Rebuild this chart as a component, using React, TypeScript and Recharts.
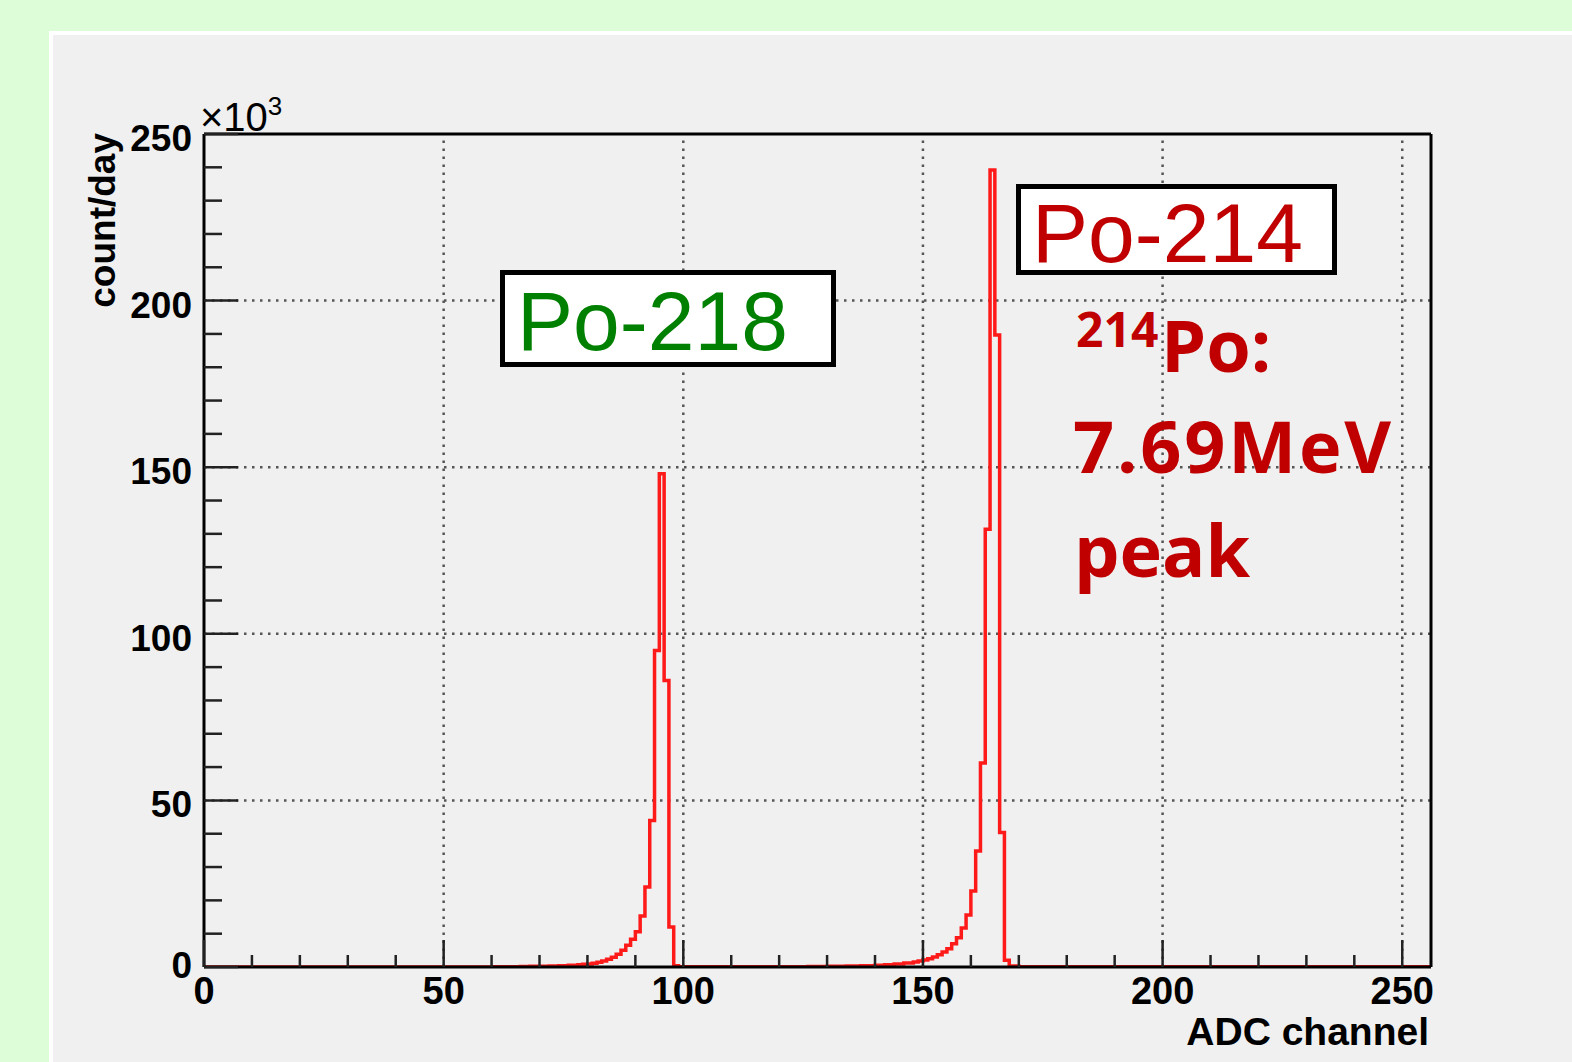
import { LineChart, Line, XAxis, YAxis, ReferenceLine } from 'recharts';

// histogram bin lower edges (ADC channel) and counts per day (x10^3)
const channels = [
    0, 60, 64, 66, 68, 70, 72, 74, 76, 78, 79, 80, 81, 82, 83, 84, 85, 86, 87, 88, 89,
    90, 91, 92, 93, 94, 95, 96, 97, 98, 99, 104,
    120, 126, 130, 134, 137, 140, 142, 144, 146, 148, 149, 150, 151, 152, 153, 154, 155, 156, 157,
    158, 159, 160, 161, 162, 163, 164, 165, 166, 167, 168, 170, 256,
];
const counts = [
    0, 0.05, 0.1, 0.15, 0.2, 0.25, 0.3, 0.4, 0.5, 0.7, 0.8, 0.9, 1.1, 1.4, 1.8, 2.3, 2.9, 3.8, 5.0, 6.5, 8.3,
    10.6, 15.3, 24, 44, 95, 148, 86, 12, 0.4, 0.1, 0.05,
    0.1, 0.15, 0.2, 0.3, 0.4, 0.5, 0.7, 0.9, 1.2, 1.5, 1.8, 2.1, 2.5, 3.0, 3.7, 4.5, 5.5, 7.0, 8.8,
    11.7, 15.6, 22.8, 34.8, 61.2, 131.4, 239.2, 189.7, 40.4, 2.0, 0.3, 0.05, 0.05,
];

const xTicks = [0, 10, 20, 30, 40, 50, 60, 70, 80, 90, 100, 110, 120, 130, 140, 150, 160, 170, 180, 190, 200, 210, 220, 230, 240, 250];
const yTicks = [0, 10, 20, 30, 40, 50, 60, 70, 80, 90, 100, 110, 120, 130, 140, 150, 160, 170, 180, 190, 200, 210, 220, 230, 240, 250];
const xGrid = [50, 100, 150, 200, 250];
const yGrid = [50, 100, 150, 200];

const data = channels.map((c, i) => ({ channel: c, count: counts[i] }));

const AXIS_FONT = "'Liberation Sans', Arial, Helvetica, sans-serif";
const NOTE_RED = '#c00000';

const YTick = (props: any) => {
    const { x, y, payload } = props;
    const v = payload.value;
    const major = v % 50 === 0;
    return (
        <g>
            <line x1={x} x2={x + (major ? 34 : 18)} y1={y} y2={y} stroke="#222" strokeWidth={2.5} />
            {major && (
                <text x={x - 12} y={y + (v === 0 ? 11 : 17)} textAnchor="end"
                    fontFamily={AXIS_FONT} fontWeight="bold" fontSize={37} fill="#000">{v}</text>
            )}
        </g>
    );
};

const XTick = (props: any) => {
    const { x, y, payload } = props;
    const v = payload.value;
    const major = v % 50 === 0;
    return (
        <g>
            <line x1={x} x2={x} y1={y} y2={y - (major ? 27 : 12)} stroke="#222" strokeWidth={2.5} />
            {major && (
                <text x={x} y={y + 37} textAnchor="middle"
                    fontFamily={AXIS_FONT} fontWeight="bold" fontSize={38} fill="#000">{v}</text>
            )}
        </g>
    );
};

const YTitle = (props: any) => {
    const { viewBox } = props;
    const tx = viewBox.x + 61;
    const ty = viewBox.y - 1;
    return (
        <g>
            <text x={tx} y={ty} textAnchor="end" transform={`rotate(-90, ${tx}, ${ty})`}
                fontFamily={AXIS_FONT} fontWeight="bold" fontSize={37} fill="#000">count/day</text>
            <text x={viewBox.x + 146} y={viewBox.y - 3} fontFamily={AXIS_FONT} fontSize={40} fill="#000">
                ×10<tspan fontSize={26} dy={-16}>3</tspan>
            </text>
        </g>
    );
};

const XTitle = (props: any) => {
    const { viewBox } = props;
    return (
        <text x={viewBox.x + viewBox.width - 2} y={viewBox.y + 78} textAnchor="end"
            fontFamily={AXIS_FONT} fontWeight="bold" fontSize={39} fill="#000">ADC channel</text>
    );
};

export default function App() {
    return (
        <div style={{ position: 'fixed', left: 0, top: 0, width: 1572, height: 1062, background: '#dcfdd8', overflow: 'hidden' }}>
            <div style={{
                position: 'absolute', left: 49, top: 31, right: 0, bottom: 0, background: '#f0f0f0',
                borderLeft: '4px solid #fff', borderTop: '4px solid #fff',
            }} />
            <div style={{ position: 'absolute', left: 0, top: 0 }}>
                <LineChart width={1572} height={1062} data={data}
                    margin={{ top: 133, right: 140, bottom: 5, left: 54 }}>
                    <XAxis xAxisId="bottom" dataKey="channel" type="number" domain={[0, 256]} ticks={xTicks}
                        interval={0} tickSize={0} tickMargin={0} height={90} tick={XTick}
                        axisLine={{ stroke: '#000', strokeWidth: 3 }} label={<XTitle />} allowDataOverflow />
                    <XAxis xAxisId="top" orientation="top" type="number" domain={[0, 256]}
                        tick={false} tickLine={false} height={1}
                        axisLine={{ stroke: '#000', strokeWidth: 3 }} allowDataOverflow />
                    <YAxis yAxisId="left" type="number" domain={[0, 250]} ticks={yTicks} interval={0}
                        tickSize={0} tickMargin={0} width={150} tick={YTick}
                        axisLine={{ stroke: '#000', strokeWidth: 3 }} label={<YTitle />} allowDataOverflow />
                    <YAxis yAxisId="right" orientation="right" type="number" domain={[0, 250]} tick={false}
                        tickLine={false} width={1} axisLine={{ stroke: '#000', strokeWidth: 3 }} allowDataOverflow />
                    {yGrid.map(v => (
                        <ReferenceLine key={`gy${v}`} xAxisId="bottom" yAxisId="left" y={v}
                            stroke="#555" strokeWidth={2.5} strokeDasharray="2.5 5.5" />
                    ))}
                    {xGrid.map(v => (
                        <ReferenceLine key={`gx${v}`} xAxisId="bottom" yAxisId="left" x={v}
                            stroke="#555" strokeWidth={2.5} strokeDasharray="2.5 5.5" />
                    ))}
                    <Line xAxisId="bottom" yAxisId="left" type="stepAfter" dataKey="count"
                        stroke="#ff1a1a" strokeWidth={3.5} dot={false} isAnimationActive={false} />
                </LineChart>
            </div>
            <svg width={1572} height={1062} style={{ position: 'absolute', left: 0, top: 0, pointerEvents: 'none' }}>
                <rect x={502.5} y={272.5} width={331} height={92} fill="#fff" stroke="#000" strokeWidth={5} />
                <text x={517} y={350} fontFamily={AXIS_FONT} fontSize={84} fill="#008000">Po-218</text>
                <rect x={1018.5} y={186.5} width={316} height={86} fill="#fff" stroke="#000" strokeWidth={5} />
                <text x={1032} y={262} fontFamily={AXIS_FONT} fontSize={84} fill={NOTE_RED}>Po-214</text>
                <g fontFamily="'Open Sans', sans-serif" fontWeight="bold" fill={NOTE_RED}>
                    <text x={1076} y={347} fontSize={48}>214</text>
                    <text x={1161} y={372} fontSize={72}>Po:</text>
                    <text x={1073} y={473} fontSize={72} letterSpacing={2.8}>7.69MeV</text>
                    <text x={1074} y={577} fontSize={72}>peak</text>
                </g>
            </svg>
        </div>
    );
}
